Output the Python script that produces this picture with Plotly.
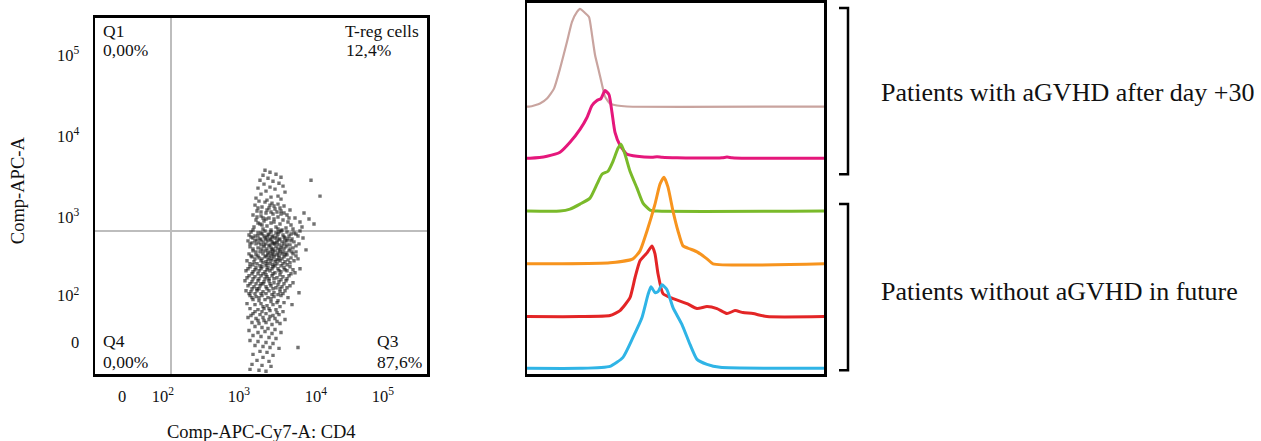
import plotly.graph_objects as go

# ---------------- data ----------------
# Left panel: flow-cytometry dot plot in display channels (biexponential display)
cd4_tick_vals = [27, 68, 144, 221, 288]
cd4_tick_text = ["0", "10<sup>2</sup>", "10<sup>3</sup>", "10<sup>4</sup>", "10<sup>5</sup>"]
apc_tick_vals = [32, 79, 158, 239, 321]
apc_tick_text = ["0", "10<sup>2</sup>", "10<sup>3</sup>", "10<sup>4</sup>", "10<sup>5</sup>"]
gate_cd4 = 76
gate_apc = 144
quadrant_names = ["Q1", "T-reg cells", "Q4", "Q3"]
quadrant_pcts = ["0,00%", "12,4%", "0,00%", "87,6%"]

cells = [
    (170,205),(175,203),(168,200),(181,201),(186,198),(173,197),(165,195),(178,194),(184,192),(169,191),
    (188,189),(175,188),(163,187),(180,186),(171,184),(190,183),(166,181),(183,179),(176,178),(186,176),
    (161,177),(172,175),(216,195),(225,179),
    (164,174),(170,173),(177,172),(183,171),(160,170),(189,169),(167,168),(174,167),(180,166),(195,165),
    (162,164),(186,164),(171,162),(178,161),(158,160),(192,160),(166,159),(183,158),(174,157),(200,157),
    (161,155),(188,155),(169,154),(179,153),(205,153),(165,151),(185,151),(196,150),(172,149),(159,148),
    (181,148),(191,147),(168,146),(176,145),(187,145),(209,162),(214,156),(219,151),(207,148),(198,146),
    (163,152),(175,170),(182,163),(168,157),(193,153),
    (163,167),(172,165),(179,169),(185,167),(166,163),(176,163),(189,162),(162,158),(171,156),(179,156),
    (186,161),(194,157),(167,150),(176,152),(183,146),
    (156,143),(163,142),(170,144),(176,143),(181,142),(186,144),(192,143),(199,142),(205,144),
    (154,140),(160,139),(167,141),(173,140),(178,139),(183,141),(188,140),(194,139),(201,141),(172,138),
    (158,137),(165,136),(170,137),(175,136),(180,137),(185,136),(190,137),(197,136),(208,137),(162,135),
    (153,134),(168,133),(173,134),(177,133),(182,134),(187,133),(192,134),(179,132),(199,133),(157,132),
    (161,131),(166,130),(171,131),(175,130),(180,131),(184,130),(189,131),(195,130),(204,131),(174,129),
    (155,128),(163,127),(169,128),(176,127),(181,128),(186,127),(191,128),(198,127),(178,126),(185,125),
    (158,124),(165,123),(171,124),(175,123),(180,124),(183,122),(188,123),(194,124),(201,123),(211,125),
    (154,121),(161,120),(168,121),(173,120),(177,121),(182,120),(187,121),(192,120),(198,121),(176,119),
    (157,118),(164,117),(170,118),(174,117),(179,118),(184,117),(189,118),(196,117),(203,116),(181,115),
    (152,114),(159,113),(166,114),(171,113),(176,114),(180,113),(185,114),(190,113),(199,114),(172,111),
    (178,110),
    (158,145),(166,142),(174,141),(184,143),(196,141),(203,139),
    (156,138),(163,139),(169,139),(177,138),(182,138),(189,138),(193,136),
    (160,134),(166,135),(171,135),(176,135),(184,135),(190,134),(196,134),
    (155,131),(164,132),(169,130),(178,131),(182,132),(187,129),(192,130),(201,129),
    (158,126),(166,126),(172,126),(177,125),(183,126),(189,126),(195,126),
    (161,123),(168,124),(173,122),(178,123),(185,123),(191,122),(197,123),
    (156,119),(163,119),(171,119),(179,120),(184,119),(190,120),(201,119),
    (160,116),(167,116),(173,115),(177,116),(183,115),(187,116),(193,115),
    (155,111),(162,111),(168,112),(175,111),(182,111),(188,111),(195,112),
    (158,110),(165,109),(171,109),(180,109),(186,109),(192,110),
    (155,108),(161,107),(167,108),(173,107),(178,108),(183,106),(189,107),(195,108),(205,106),
    (151,104),(158,103),(164,104),(170,103),(175,104),(180,102),(186,103),(192,104),(200,102),(168,101),
    (154,99),(160,98),(166,99),(172,98),(177,99),(182,97),(188,98),(194,99),(174,96),
    (150,94),(157,93),(163,94),(169,93),(174,94),(179,92),(184,93),(191,94),(198,92),(166,91),
    (153,89),(159,88),(165,89),(171,88),(176,89),(181,87),(187,88),(195,89),(162,86),
    (151,84),(156,83),(162,84),(168,83),(174,84),(179,82),(185,83),(190,84),(204,82),(171,81),
    (153,106),(160,105),(166,106),(172,105),(177,106),(184,104),(190,105),(198,105),
    (157,101),(163,101),(171,100),(178,101),(185,100),(196,101),
    (152,97),(158,96),(164,96),(170,96),(179,96),(186,95),(192,96),
    (155,91),(161,91),(168,91),(175,91),(183,90),(189,91),
    (157,86),(164,86),(172,86),(178,86),(185,86),(192,87),
    (154,81),(160,81),(166,81),(177,80),(183,80),(188,81),
    (155,79),(161,78),(167,79),(173,77),(179,78),(186,79),(193,77),(158,75),(164,74),(170,75),
    (176,73),(183,74),(189,72),(152,71),(160,70),(166,71),(172,69),(178,70),(185,68),(197,70),
    (155,66),(163,65),(169,66),(175,64),(181,65),(188,63),(158,61),(165,60),(171,61),(178,59),
    (184,60),(153,57),(161,56),(168,57),(174,55),(180,56),(190,55),(157,52),(164,51),(171,52),
    (177,50),(185,51),
    (157,77),(164,77),(176,76),(182,72),(168,68),(174,66),(160,63),(167,63),(182,62),(156,59),
    (175,58),(163,54),(169,54),(182,53),
    (160,48),(167,47),(173,46),(180,45),(154,44),(163,42),(170,43),(177,41),(186,42),(158,39),
    (166,38),(174,37),(181,36),(155,34),(163,33),(171,32),(178,31),(203,27),(160,29),(168,28),
    (175,27),(184,26),
    (165,23),(172,22),(158,20),(178,19),(168,17),(162,14),(174,13),(157,10),(167,9),(176,8),
    (155,5),(164,4),(171,3),
]
cd4_values = [c[0] for c in cells]
apc_values = [c[1] for c in cells]

# Right panel: stacked histograms (channel, count)
hist1_ch = [0, 3, 13, 20, 27, 33, 40, 45, 50, 53, 58, 62, 65, 68, 72, 75, 78, 83, 90, 100, 297]
hist1_ct = [0, 0, 3, 8, 18, 38, 65, 85, 95, 98, 94, 90, 72, 52, 35, 22, 10, 3, 1, 0, 0]
hist2_ch = [0, 3, 20, 33, 43, 53, 60, 65, 70, 74, 78, 82, 85, 88, 93, 100, 110, 125, 130, 135, 150, 195, 200, 205, 220, 297]
hist2_ct = [0, 0, 2, 6, 16, 29, 41, 53, 58, 60, 68, 64, 46, 26, 13, 4, 2, 1, 1.5, 1, 0.5, 0.5, 1.2, 0.5, 0, 0]
hist3_ch = [0, 33, 43, 53, 63, 70, 75, 81, 86, 91, 94, 98, 103, 110, 116, 123, 130, 297]
hist3_ct = [0, 0, 2, 7, 13, 27, 37, 40, 50, 63, 67, 57, 40, 23, 8, 1, 0, 0]
hist4_ch = [0, 33, 83, 106, 113, 120, 128, 133, 137, 141, 146, 151, 156, 163, 170, 180, 186, 297]
hist4_ct = [0, 0, 1, 5, 13, 33, 60, 80, 87, 77, 53, 33, 18, 15, 12, 5, 0, 0]
hist5_ch = [0, 53, 83, 93, 103, 108, 113, 120, 125, 128, 131, 136, 146, 160, 170, 180, 190, 200, 208, 216, 226, 240, 297]
hist5_ct = [0, 0, 1, 6, 19, 39, 56, 64, 71, 63, 43, 23, 18, 13, 8, 10, 8, 3, 6, 4, 3, 0, 0]
hist6_ch = [0, 53, 83, 96, 106, 115, 121, 124, 128, 131, 135, 140, 146, 155, 163, 170, 180, 193, 297]
hist6_ct = [0, 0, 2, 11, 31, 51, 74, 82, 76, 77, 84, 79, 61, 44, 24, 9, 4, 1, 0]

group_labels = ["Patients with aGVHD after day +30", "Patients without aGVHD in future"]

# ---------------- styles ----------------
W, H = 1261, 441
SERIF = "Liberation Serif, Times New Roman, serif"
hist_series = [
    (hist1_ch, hist1_ct, "#c9a49f", 2.2),
    (hist2_ch, hist2_ct, "#e5177b", 3),
    (hist3_ch, hist3_ct, "#7aba2a", 3),
    (hist4_ch, hist4_ct, "#f7941e", 3),
    (hist5_ch, hist5_ct, "#e32526", 3),
    (hist6_ch, hist6_ct, "#2fb4e6", 3),
]
stack_offsets = [269, 217, 164, 111, 58, 6]


def px(x):
    return x / W


def py(y):
    return 1 - y / H


fig = go.Figure()

fig.add_trace(go.Scatter(
    x=cd4_values, y=apc_values, mode="markers",
    marker=dict(symbol="square", size=3.4, color="rgba(20,20,20,0.6)", line=dict(width=0)),
    xaxis="x", yaxis="y", hoverinfo="skip", showlegend=False,
))

for (ch, ct, col, lw), off in zip(hist_series, stack_offsets):
    fig.add_trace(go.Scatter(
        x=ch, y=[off + v for v in ct], mode="lines",
        line=dict(color=col, width=lw, shape="spline", smoothing=0.5),
        xaxis="x2", yaxis="y2", hoverinfo="skip", showlegend=False,
    ))

# gates
fig.add_shape(type="line", xref="x", yref="y domain", x0=gate_cd4, x1=gate_cd4, y0=0, y1=1,
              line=dict(color="#bdbdbd", width=2), layer="below")
fig.add_shape(type="line", xref="x domain", yref="y", x0=0, x1=1, y0=gate_apc, y1=gate_apc,
              line=dict(color="#bdbdbd", width=2), layer="below")

# brackets
for top, bot in [(6, 173), (203, 370)]:
    fig.add_shape(type="path", xref="paper", yref="paper",
                  path=f"M {px(839)},{py(top)} L {px(848)},{py(top)} L {px(848)},{py(bot)} L {px(839)},{py(bot)}",
                  line=dict(color="black", width=2.5))

ann = []
qfont = dict(family=SERIF, size=17.5, color="#111")
ann.append(dict(x=px(101), y=py(29), text=quadrant_names[0], xanchor="left"))
ann.append(dict(x=px(101), y=py(48), text=quadrant_pcts[0], xanchor="left"))
ann.append(dict(x=px(421), y=py(29), text=quadrant_names[1], xanchor="right"))
ann.append(dict(x=px(344), y=py(48), text=quadrant_pcts[1], xanchor="left"))
ann.append(dict(x=px(101), y=py(341), text=quadrant_names[2], xanchor="left"))
ann.append(dict(x=px(101), y=py(362), text=quadrant_pcts[2], xanchor="left"))
ann.append(dict(x=px(375), y=py(341), text=quadrant_names[3], xanchor="left"))
ann.append(dict(x=px(375), y=py(362), text=quadrant_pcts[3], xanchor="left"))
for a in ann:
    a.update(xref="paper", yref="paper", yanchor="middle", showarrow=False, font=qfont)

ann.append(dict(x=px(261), y=py(432), text="Comp-APC-Cy7-A: CD4", xref="paper", yref="paper",
                xanchor="center", yanchor="middle", showarrow=False,
                font=dict(family=SERIF, size=18.5, color="#111")))
ann.append(dict(x=px(18), y=py(189), text="Comp-APC-A", xref="paper", yref="paper", textangle=-90,
                xanchor="center", yanchor="middle", showarrow=False,
                font=dict(family=SERIF, size=18.5, color="#111")))
ann.append(dict(x=px(879), y=py(91), text=group_labels[0], xref="paper", yref="paper",
                xanchor="left", yanchor="middle", showarrow=False,
                font=dict(family=SERIF, size=26, color="#111")))
ann.append(dict(x=px(879), y=py(291), text=group_labels[1], xref="paper", yref="paper",
                xanchor="left", yanchor="middle", showarrow=False,
                font=dict(family=SERIF, size=26, color="#111")))

box = dict(showgrid=False, zeroline=False, showline=True, mirror=True,
           linecolor="black", linewidth=2.5, fixedrange=True)

fig.update_layout(
    width=W, height=H, margin=dict(l=0, r=0, t=0, b=0),
    paper_bgcolor="white", plot_bgcolor="white", showlegend=False,
    xaxis=dict(domain=[px(95), px(427)], range=[0, 332], anchor="y",
               tickmode="array", tickvals=cd4_tick_vals, ticktext=cd4_tick_text,
               ticks="", ticklabelstandoff=5,
               tickfont=dict(family=SERIF, size=16.5, color="#111"), **box),
    yaxis=dict(domain=[1 - 374 / H, 1 - 16 / H], range=[0, 358], anchor="x",
               tickmode="array", tickvals=apc_tick_vals, ticktext=apc_tick_text,
               ticks="", ticklabelstandoff=10,
               tickfont=dict(family=SERIF, size=16.5, color="#111"), **box),
    xaxis2=dict(domain=[px(527), px(824)], range=[0, 297], anchor="y2",
                showticklabels=False, ticks="", **box),
    yaxis2=dict(domain=[1 - 374 / H, 1 - 1 / H], range=[0, 373], anchor="x2",
                showticklabels=False, ticks="", **box),
    annotations=ann,
)

fig.write_html(
    "out.html",
    config={"displayModeBar": False, "staticPlot": True},
    post_script="document.body.style.margin='0';document.body.style.padding='0';"
                "document.body.style.overflow='hidden';",
)
